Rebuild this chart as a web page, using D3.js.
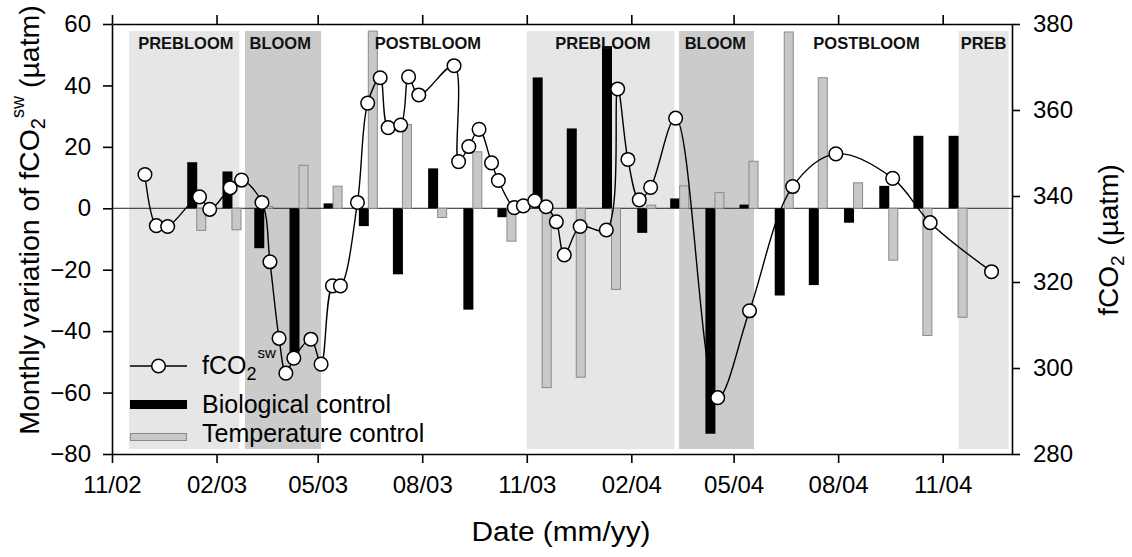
<!DOCTYPE html>
<html><head><meta charset="utf-8">
<script src="https://cdn.jsdelivr.net/npm/d3@7"></script>
<style>
body{margin:0;background:#fff}
text{font-family:"Liberation Sans",Arial,Helvetica,sans-serif;fill:#000}
</style>
</head><body><svg id="chart" width="1132" height="557"></svg>
<script>
// ---------- data ----------
const tickDates = ["2002-11-01","2003-02-01","2003-05-01","2003-08-01","2003-11-01","2004-02-01","2004-05-01","2004-08-01","2004-11-01"];
const tickLabels = ["11/02","02/03","05/03","08/03","11/03","02/04","05/04","08/04","11/04"];
const leftTicks = [-80,-60,-40,-20,0,20,40,60];
const rightTicks = [280,300,320,340,360,380];

const months = ["2003-01-15","2003-02-15","2003-03-15","2003-04-15","2003-05-15","2003-06-15","2003-07-15","2003-08-15","2003-09-15","2003-10-15","2003-11-15","2003-12-15",
                "2004-01-15","2004-02-15","2004-03-15","2004-04-15","2004-05-15","2004-06-15","2004-07-15","2004-08-15","2004-09-15","2004-10-15","2004-11-15"];
const biological  = [15, 12, -13, -47, 1.6, -5.8, -21.5, 13, -33, -2.9, 42.6, 26, 52.8, -8, 3.2, -73.4, 1.2, -28.4, -25, -4.7, 7.3, 23.6, 23.6];
const temperature = [-7.2, -7, 0.6, 14, 7.2, 57.7, 27.3, -3, 18.4, -10.7, -58.4, -55, -26.4, 1, 7.3, 5.1, 15.3, 57.4, 42.5, 8.3, -16.9, -41.4, -35.5];

const fco2Dates = ["2002-11-30","2002-12-10","2002-12-20","2003-01-17","2003-01-26","2003-02-13","2003-02-23","2003-03-13","2003-03-20","2003-03-28",
  "2003-04-03","2003-04-10","2003-04-25","2003-05-04","2003-05-14","2003-05-21","2003-06-05","2003-06-14","2003-06-25","2003-07-02",
  "2003-07-13","2003-07-20","2003-07-29","2003-08-29","2003-09-02","2003-09-11","2003-09-20","2003-10-01","2003-10-07","2003-10-21",
  "2003-10-29","2003-11-08","2003-11-18","2003-11-27","2003-12-04","2003-12-18","2004-01-10","2004-01-20","2004-01-29","2004-02-08",
  "2004-02-18","2004-03-11","2004-04-17","2004-05-15","2004-06-22","2004-07-30","2004-09-18","2004-10-21","2004-12-14"];
const fco2Values = [345.0, 333.1, 332.9, 339.8, 336.9, 341.9, 343.7, 338.5, 324.7, 306.9,
  298.8, 302.3, 306.7, 300.9, 319.1, 319.1, 338.5, 361.6, 367.5, 355.9,
  356.5, 367.7, 363.5, 370.3, 348.0, 351.5, 355.5, 347.7, 343.6, 337.3,
  337.7, 338.9, 337.5, 334.0, 326.3, 332.9, 332.1, 364.9, 348.5, 339.1,
  342.0, 358.1, 293.1, 313.3, 342.2, 349.8, 344.1, 333.8, 322.4];

const phaseKind  = ["pre","bloom","pre","bloom","pre"];
const phaseStart = ["2002-11-16","2003-02-26","2003-11-01","2004-03-14","2004-11-15"];
const phaseEnd   = ["2003-02-21","2003-05-04","2004-03-10","2004-05-19","2004-12-29"];
const labelNames = ["PREBLOOM","BLOOM","POSTBLOOM","PREBLOOM","BLOOM","POSTBLOOM","PREB"];
const labelDates = ["2003-01-05","2003-03-29","2003-08-06","2004-01-07","2004-04-15","2004-08-26","2004-12-07"];

const legendLabels = ["fCO2sw","Biological control","Temperature control"];

// ---------- layout ----------
const svg = d3.select("#chart");
const L = 112, R = 1012, T = 24, B = 454;
const parse = d3.utcParse("%Y-%m-%d");
const x = d3.scaleUtc().domain([parse("2002-11-01"), parse("2005-01-01")]).range([L, R]);
const yL = d3.scaleLinear().domain([-80, 60]).range([B, T]);
const yR = d3.scaleLinear().domain([280, 380]).range([B, T]);

const shadeColor = {pre: "#e6e6e6", bloom: "#cbcbcb"};

// shaded phases
svg.append("g").selectAll("rect").data(phaseKind).join("rect")
  .attr("x", (d,i) => x(parse(phaseStart[i])))
  .attr("width", (d,i) => x(parse(phaseEnd[i])) - x(parse(phaseStart[i])))
  .attr("y", T + 7).attr("height", B - T - 12)
  .attr("fill", d => shadeColor[d]);

// zero line
svg.append("line").attr("x1", L).attr("x2", R).attr("y1", yL(0)).attr("y2", yL(0))
  .attr("stroke", "#222").attr("stroke-width", 1);

// bars
const bw = 10;
const bars = svg.append("g");
bars.selectAll("rect.bio").data(biological).join("rect").attr("class","bio")
  .attr("x", (d,i) => x(parse(months[i])) - bw)
  .attr("width", bw)
  .attr("y", d => yL(Math.max(0, d)))
  .attr("height", d => Math.abs(yL(d) - yL(0)))
  .attr("fill", "#000");
bars.selectAll("rect.tmp").data(temperature).join("rect").attr("class","tmp")
  .attr("x", (d,i) => x(parse(months[i])) - 0.5)
  .attr("width", bw - 1)
  .attr("y", d => yL(Math.max(0, d)))
  .attr("height", d => Math.abs(yL(d) - yL(0)))
  .attr("fill", "#c8c8c8").attr("stroke", "#8a8a8a").attr("stroke-width", 1);

// fCO2 line
const pts = fco2Dates.map((d,i) => [x(parse(d)), yR(fco2Values[i])]);
svg.append("path").datum(pts)
  .attr("d", d3.line().curve(d3.curveCatmullRom.alpha(0.5)))
  .attr("fill", "none").attr("stroke", "#000").attr("stroke-width", 1.4);
svg.append("g").selectAll("circle").data(pts).join("circle")
  .attr("cx", d => d[0]).attr("cy", d => d[1]).attr("r", 6.8)
  .attr("fill", "#fff").attr("stroke", "#000").attr("stroke-width", 1.5);

// phase labels
svg.append("g").selectAll("text").data(labelNames).join("text")
  .attr("x", (d,i) => x(parse(labelDates[i])))
  .attr("y", 48.5)
  .attr("text-anchor", "middle")
  .style("font-weight", "bold").style("font-size", "16.5px").style("fill", "#111")
  .text(d => d);

// axes
const fmtLab = (d,i) => tickLabels[i];
const tickDs = tickDates.map(parse);
const styleAxis = g => {
  g.selectAll(".domain").attr("stroke", "#000").attr("stroke-width", 1.6);
  g.selectAll(".tick line").attr("stroke", "#000").attr("stroke-width", 1.6);
  g.selectAll("text").style("font-family", '"Liberation Sans",Arial,sans-serif').attr("fill", "#000");
};
svg.append("g").attr("transform", `translate(0,${B})`)
  .call(d3.axisBottom(x).tickValues(tickDs).tickFormat(fmtLab).tickSize(9).tickSizeOuter(0).tickPadding(13))
  .call(styleAxis).call(g => g.selectAll("text").style("font-size", "24px"));
svg.append("g").attr("transform", `translate(0,${T})`)
  .call(d3.axisTop(x).tickValues(tickDs).tickFormat("").tickSize(9).tickSizeOuter(0))
  .call(styleAxis);
svg.append("g").attr("transform", `translate(${L},0)`)
  .call(d3.axisLeft(yL).tickValues(leftTicks).tickSize(9).tickSizeOuter(0).tickPadding(12))
  .call(styleAxis).call(g => g.selectAll("text").style("font-size", "24px"));
svg.append("g").attr("transform", `translate(${R},0)`)
  .call(d3.axisRight(yR).tickValues(rightTicks).tickSize(8).tickSizeOuter(0).tickPadding(13))
  .call(styleAxis).call(g => g.selectAll("text").style("font-size", "24px"));

// axis titles
svg.append("text").attr("x", 561).attr("y", 541).attr("text-anchor", "middle")
  .attr("textLength", 179).attr("lengthAdjust", "spacingAndGlyphs")
  .style("font-size", "27px").text("Date (mm/yy)");

const lt = svg.append("text").attr("transform", "translate(39,220) rotate(-90)")
  .attr("text-anchor", "middle").style("font-size", "28.5px");
lt.append("tspan").text("Monthly variation of fCO");
lt.append("tspan").attr("dy", 6).style("font-size", "20px").text("2");
lt.append("tspan").attr("dy", -21).style("font-size", "18px").text("sw");
lt.append("tspan").attr("dy", 15).text(" (µatm)");

const rt = svg.append("text").attr("transform", "translate(1118,240) rotate(-90)")
  .attr("text-anchor", "middle").style("font-size", "28px");
rt.append("tspan").text("fCO");
rt.append("tspan").attr("dy", 6).style("font-size", "19px").text("2");
rt.append("tspan").attr("dy", -6).attr("dx", 2).text(" (µatm)");

// legend
const lg = svg.append("g");
lg.append("line").attr("x1", 130).attr("x2", 187).attr("y1", 366).attr("y2", 366).attr("stroke", "#000").attr("stroke-width", 1.4);
lg.append("circle").attr("cx", 158.5).attr("cy", 366).attr("r", 6.8).attr("fill", "#fff").attr("stroke", "#000").attr("stroke-width", 1.5);
lg.append("rect").attr("x", 130).attr("y", 400).attr("width", 57).attr("height", 9).attr("fill", "#000");
lg.append("rect").attr("x", 130.5).attr("y", 433.5).attr("width", 56).attr("height", 7).attr("fill", "#c8c8c8").attr("stroke", "#8a8a8a");
const t0 = lg.append("text").attr("x", 202).attr("y", 374).style("font-size", "25px");
t0.append("tspan").text(legendLabels[0].slice(0,3));
t0.append("tspan").attr("dy", 6).style("font-size", "18px").text(legendLabels[0].slice(3,4));
t0.append("tspan").attr("dx", 1).attr("dy", -22).style("font-size", "15px").text(legendLabels[0].slice(4));
lg.append("text").attr("x", 202).attr("y", 413).style("font-size", "25px").text(legendLabels[1]);
lg.append("text").attr("x", 202).attr("y", 441.5).style("font-size", "25px").text(legendLabels[2]);
</script>
</body></html>
